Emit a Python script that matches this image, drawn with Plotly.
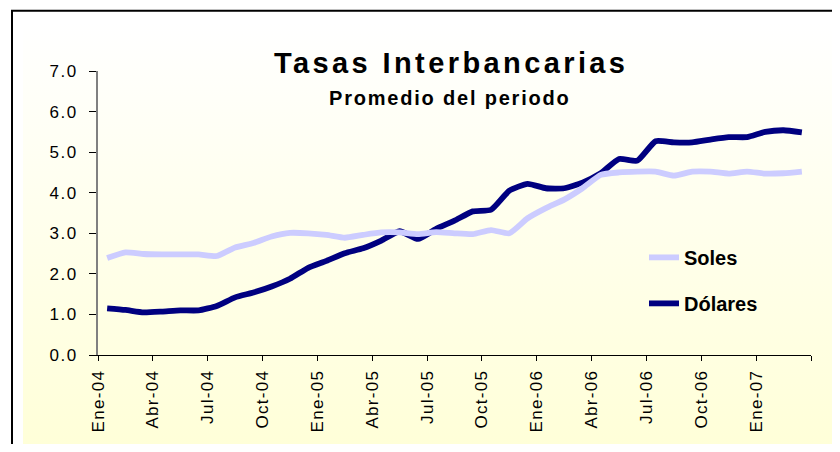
import base64
import plotly.graph_objects as go

# ---- data ----
meses = ["Ene-04", "Feb-04", "Mar-04", "Abr-04", "May-04", "Jun-04", "Jul-04", "Ago-04",
         "Sep-04", "Oct-04", "Nov-04", "Dic-04", "Ene-05", "Feb-05", "Mar-05", "Abr-05",
         "May-05", "Jun-05", "Jul-05", "Ago-05", "Sep-05", "Oct-05", "Nov-05", "Dic-05",
         "Ene-06", "Feb-06", "Mar-06", "Abr-06", "May-06", "Jun-06", "Jul-06", "Ago-06",
         "Sep-06", "Oct-06", "Nov-06", "Dic-06", "Ene-07", "Feb-07", "Mar-07"]
soles = [2.39, 2.53, 2.49, 2.48, 2.48, 2.48, 2.44, 2.65, 2.76, 2.92, 3.01, 3.00,
         2.96, 2.89, 2.96, 3.02, 3.02, 2.98, 3.03, 3.00, 2.98, 3.08, 3.00, 3.37,
         3.62, 3.83, 4.11, 4.44, 4.50, 4.52, 4.52, 4.42, 4.52, 4.52, 4.47, 4.52,
         4.47, 4.48, 4.52]
dolares = [1.15, 1.11, 1.05, 1.07, 1.10, 1.10, 1.21, 1.42, 1.54, 1.69, 1.88, 2.15,
           2.32, 2.51, 2.63, 2.82, 3.05, 2.86, 3.11, 3.31, 3.54, 3.58, 4.05, 4.22,
           4.11, 4.11, 4.25, 4.48, 4.83, 4.79, 5.27, 5.24, 5.24, 5.31, 5.37, 5.37,
           5.50, 5.54, 5.49]
y_ticks = [0, 1, 2, 3, 4, 5, 6, 7]
titulo = "Tasas Interbancarias"
subtitulo = "Promedio del periodo"

# month midpoints on a numeric axis; ticks at every third month start
x_pos = [i + 0.5 for i in range(len(meses))]
x_tickvals = list(range(0, len(meses) + 1, 3))
x_ticktext = [
    '<span style="letter-spacing:1.3px">%s</span>' % meses[i] if i < len(meses) else ""
    for i in x_tickvals
]
y_ticktext = ['<span style="letter-spacing:1.6px">%.1f</span>' % v for v in y_ticks]

FONT = "Liberation Sans, Arial, sans-serif"

fig = go.Figure()
fig.add_trace(go.Scatter(
    x=x_pos, y=dolares, name="Dólares", mode="lines",
    line=dict(color="#000080", width=5.8, shape="spline", smoothing=0.5),
    legendgroup="d", legendrank=2,
))
fig.add_trace(go.Scatter(
    x=x_pos, y=soles, name="Soles", mode="lines",
    line=dict(color="#CCCCFF", width=5.8, shape="spline", smoothing=0.5),
    legendgroup="s", legendrank=1,
))

# gradient background image
svg = ('<svg xmlns="http://www.w3.org/2000/svg" width="100" height="100" '
       'viewBox="0 0 100 100" preserveAspectRatio="none">'
       '<defs><linearGradient id="g" x1="0" y1="0" x2="0" y2="1">'
       '<stop offset="0" stop-color="#FFFFFF"/><stop offset="1" stop-color="#FFFFD8"/>'
       '</linearGradient></defs><rect width="100" height="100" fill="url(#g)"/></svg>')
uri = "data:image/svg+xml;base64," + base64.b64encode(svg.encode()).decode()

# page body has an 8px margin: figure coordinates = screen coordinates - 8
OFF = 8
W, H = 840 - OFF, 452 - 2 * OFF
L, R, T = 98 - OFF, 840 - 811, 71.3 - OFF
B = H - (355 - OFF)
pw, ph = W - L - R, H - T - B


def px(xs):
    return (xs - OFF - L) / pw


def py(ys):
    return (H - B - (ys - OFF)) / ph


fig.update_layout(
    width=W, height=H,
    margin=dict(l=L, r=R, t=T, b=B, pad=0),
    paper_bgcolor="white",
    plot_bgcolor="rgba(0,0,0,0)",
    font=dict(family=FONT, color="black"),
    showlegend=True,
    legend=dict(
        x=px(644), y=py(238), xanchor="left", yanchor="top",
        bgcolor="rgba(0,0,0,0)", borderwidth=0,
        font=dict(family=FONT, size=20, color="black", weight="bold"),
        traceorder="grouped", tracegroupgap=17,
    ),
    xaxis=dict(
        range=[0, len(meses)], tickmode="array", tickvals=x_tickvals, ticktext=x_ticktext,
        tickangle=-90, ticks="outside", ticklen=5, tickcolor="black", tickwidth=1,
        showline=True, linecolor="black", linewidth=1, showgrid=False, zeroline=False,
        tickfont=dict(family=FONT, size=17, color="black"), ticklabelstandoff=2,
        fixedrange=True,
    ),
    yaxis=dict(
        range=[0, 7], tickmode="array", tickvals=y_ticks, ticktext=y_ticktext,
        ticks="outside", ticklen=7, tickcolor="black", tickwidth=1,
        showline=True, linecolor="#808080", linewidth=1.5, showgrid=False, zeroline=False,
        tickfont=dict(family=FONT, size=17, color="black"), ticklabelstandoff=8,
        fixedrange=True,
    ),
    xaxis2=dict(
        overlaying="x", anchor="y", range=[0, len(meses)], tickmode="array",
        tickvals=x_tickvals, ticks="inside", ticklen=5, tickcolor="black",
        showticklabels=False, showline=False, showgrid=False, zeroline=False,
    ),
    yaxis2=dict(
        overlaying="y", anchor="x", range=[0, 7], tickmode="array",
        tickvals=y_ticks, ticks="inside", ticklen=6, tickcolor="black",
        showticklabels=False, showline=False, showgrid=False, zeroline=False,
    ),
    images=[dict(
        source=uri, xref="paper", yref="paper",
        x=px(23), y=py(23), sizex=(850 - 23) / pw, sizey=(446 - 23) / ph,
        xanchor="left", yanchor="top", sizing="stretch", layer="below",
    )],
    shapes=[dict(
        type="rect", xref="paper", yref="paper",
        x0=px(12), x1=px(870), y0=py(480), y1=py(11),
        line=dict(color="black", width=2), fillcolor="rgba(0,0,0,0)", layer="above",
    )],
    annotations=[
        dict(text='<span style="letter-spacing:3.4px">%s</span>' % titulo,
             xref="paper", yref="paper", x=px(451), y=py(63),
             xanchor="center", yanchor="middle", showarrow=False,
             font=dict(family=FONT, size=29, color="black", weight="bold")),
        dict(text='<span style="letter-spacing:1.8px">%s</span>' % subtitulo,
             xref="paper", yref="paper", x=px(450), y=py(98),
             xanchor="center", yanchor="middle", showarrow=False,
             font=dict(family=FONT, size=20, color="black", weight="bold")),
    ],
)

fig.write_html("out.html")
